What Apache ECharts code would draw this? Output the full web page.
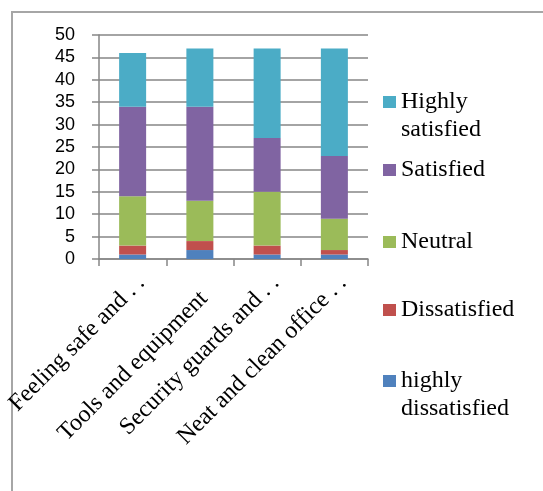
<!DOCTYPE html>
<html>
<head>
<meta charset="utf-8">
<script src="https://cdn.jsdelivr.net/npm/echarts@6/dist/echarts.min.js"></script>
<style>html,body{margin:0;padding:0;background:#fff;}#c{width:543px;height:491px;}</style>
</head>
<body>
<div id="c"></div>
<script>
const categories = ['Feeling safe and . .', 'Tools and equipment', 'Security guards and . .', 'Neat and clean office . .'];
const yTicks = [0, 5, 10, 15, 20, 25, 30, 35, 40, 45, 50];
const highlyDissatisfied = [1, 2, 1, 1];
const dissatisfied = [2, 2, 2, 1];
const neutral = [11, 9, 12, 7];
const satisfied = [20, 21, 12, 14];
const highlySatisfied = [12, 13, 20, 24];

const seriesNames = ['highly dissatisfied', 'Dissatisfied', 'Neutral', 'Satisfied', 'Highly satisfied'];
const seriesData = [highlyDissatisfied, dissatisfied, neutral, satisfied, highlySatisfied];
const colors = ['#4F81BD', '#C0504D', '#9BBB59', '#8064A2', '#4BACC6'];

const serif = '"Liberation Serif", "Times New Roman", serif';
const L = 28;
function legendFor(name, label, cy, twoLine) {
  return {
    data: [name],
    left: 383,
    top: twoLine ? cy - 1.5 * L : cy - L / 2,
    padding: 0,
    itemWidth: 13,
    itemHeight: 12,
    icon: 'rect',
    selectedMode: false,
    formatter: () => twoLine ? '\n' + label : label,
    textStyle: {
      fontFamily: serif, fontSize: 24, color: '#000', lineHeight: L
    }
  };
}

const chart = echarts.init(document.getElementById('c'));
chart.setOption({
  animation: false,
  backgroundColor: '#fff',
  color: colors,
  graphic: [{
    type: 'rect', silent: true,
    shape: { x: 12, y: 12, width: 700, height: 700 },
    style: { fill: 'none', stroke: '#a6a6a6', lineWidth: 2 }
  }],
  legend: [
    legendFor('Highly satisfied', 'Highly\nsatisfied', 102, true),
    legendFor('Satisfied', 'Satisfied', 170, false),
    legendFor('Neutral', 'Neutral', 242, false),
    legendFor('Dissatisfied', 'Dissatisfied', 310, false),
    legendFor('highly dissatisfied', 'highly\ndissatisfied', 381, true)
  ],
  grid: { left: 99, right: 175, top: 35, bottom: 232, containLabel: false },
  xAxis: {
    type: 'category',
    data: categories,
    boundaryGap: true,
    axisLine: { lineStyle: { color: '#868686', width: 1.5 } },
    axisTick: { show: true, alignWithLabel: false, length: 7, lineStyle: { color: '#868686', width: 1.5 } },
    axisLabel: {
      interval: 0, rotate: 45, margin: 12,
      align: 'right', verticalAlign: 'top',
      fontFamily: serif, fontSize: 24, color: '#000',
      formatter: (v, i) => i === 1 ? '{s|' + v + '}' : '{n|' + v + '}',
      rich: {
        n: { fontFamily: serif, fontSize: 24, color: '#000' },
        s: { fontFamily: serif, fontSize: 24, color: '#000', padding: [8, 14, 0, 0] }
      }
    },
    splitLine: { show: false }
  },
  yAxis: {
    type: 'value',
    min: yTicks[0], max: yTicks[yTicks.length - 1], interval: 5,
    axisLine: { show: true, lineStyle: { color: '#868686', width: 1.5 } },
    axisTick: { show: true, length: 7, lineStyle: { color: '#868686', width: 1.5 } },
    axisLabel: {
      margin: 24, fontFamily: '"Liberation Sans", Arial, sans-serif', fontSize: 18, color: '#000'
    },
    splitLine: { show: true, lineStyle: { color: '#868686', width: 1.5 } }
  },
  series: seriesNames.map((n, i) => ({
    name: n,
    type: 'bar',
    stack: 'total',
    barWidth: 27,
    data: seriesData[i],
    itemStyle: { color: colors[i] }
  }))
});
</script>
</body>
</html>
